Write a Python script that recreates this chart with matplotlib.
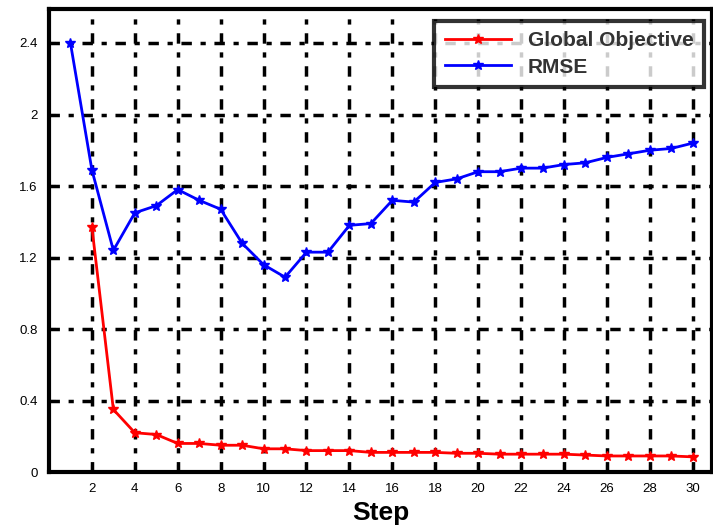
import matplotlib.pyplot as plt
import numpy as np

# Data per optimisation step
steps_rmse = list(range(1, 31))
rmse = [2.40, 1.69, 1.24, 1.45, 1.49, 1.58, 1.52, 1.47, 1.28, 1.16,
        1.09, 1.23, 1.23, 1.38, 1.39, 1.52, 1.51, 1.62, 1.64, 1.68,
        1.68, 1.70, 1.70, 1.72, 1.73, 1.76, 1.78, 1.80, 1.81, 1.84]

steps_obj = list(range(2, 31))
global_obj = [1.37, 0.35, 0.22, 0.21, 0.16, 0.16, 0.15, 0.15, 0.13, 0.13,
              0.12, 0.12, 0.12, 0.11, 0.11, 0.11, 0.11, 0.105, 0.105, 0.10,
              0.10, 0.10, 0.10, 0.095, 0.09, 0.09, 0.09, 0.09, 0.085]

xticks = list(range(2, 31, 2))
yticks = [0, 0.4, 0.8, 1.2, 1.6, 2.0, 2.4]
yticklabels = ['0', '0.4', '0.8', '1.2', '1.6', '2', '2.4']

plt.rcParams['font.family'] = ['Liberation Sans', 'DejaVu Sans']

fig = plt.figure(figsize=(7.13, 5.31), dpi=100)
ax = fig.add_axes([0.0687, 0.111, 0.93, 0.872])

ax.plot(steps_obj, global_obj, color='red', lw=2, marker='*', ms=7,
        label='Global Objective', zorder=3)
ax.plot(steps_rmse, rmse, color='blue', lw=2, marker='*', ms=7,
        label='RMSE', zorder=3)

ax.set_xlim(0, 30.9)
ax.set_ylim(0, 2.59)
ax.set_xticks(xticks)
ax.set_yticks(yticks)
ax.set_yticklabels(yticklabels)
ax.tick_params(direction='in', length=5, width=1.5, labelsize=9.5, pad=8)

ax.grid(True, color='black', linestyle=(0, (3, 2.5, 1.5, 2.5)), linewidth=2.5, zorder=1)
ax.set_axisbelow(True)
for s in ax.spines.values():
    s.set_linewidth(3)

ax.set_xlabel('Step', fontsize=19, fontweight='bold', labelpad=4)

leg = ax.legend(loc='upper right', prop={'size': 15, 'weight': 'bold'},
                frameon=True, fancybox=False, edgecolor='black',
                handlelength=3.2, borderpad=0.5, labelspacing=0.35,
                borderaxespad=0, bbox_to_anchor=(0.988, 0.974))
leg.get_frame().set_linewidth(3)
for t in leg.get_texts():
    t.set_color('#333333')

fig.savefig('out.png', dpi=100)
